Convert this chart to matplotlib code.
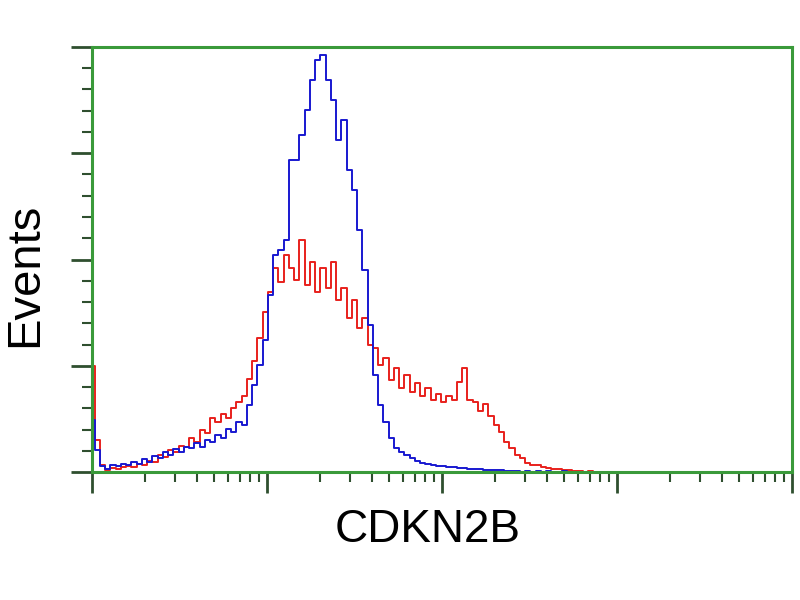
import numpy as np
import matplotlib.pyplot as plt
from matplotlib.ticker import MultipleLocator, LogLocator, NullFormatter

plt.rcParams['font.family'] = ['Liberation Sans', 'DejaVu Sans']

# Canal de fluorescencia en décadas (0.03 década por canal leído)
log_fl = np.linspace(0, 3.0, 101)

# Eventos - control (azul)
blue_counts = [49, 21, 6, 3, 7, 6, 8, 7, 10, 8,
               12, 10, 15, 13, 19, 16, 22, 19, 24, 23,
               27, 24, 30, 28, 35, 32, 41, 38, 47, 44,
               63, 82, 101, 124, 167, 204, 209, 218, 294, 294,
               317, 341, 369, 388, 392, 369, 350, 312, 331, 284,
               265, 228, 190, 138, 91, 63, 47, 32, 23, 19,
               16, 13, 11, 9, 8, 7, 6, 6, 5, 5,
               4, 4, 3, 3, 3, 2, 2, 2, 2, 1,
               1, 1, 0, 1, 0, 1, 0, 1, 0, 0,
               1, 0, 0, 0, 0, 0, 0, 0, 0, 0, 0]

# Eventos - CDKN2B (rojo)
red_counts = [100, 30, 7, 2, 4, 3, 5, 6, 5, 8,
              7, 11, 10, 16, 14, 21, 19, 25, 24, 32,
              28, 40, 37, 51, 47, 55, 51, 60, 66, 72,
              88, 105, 126, 151, 169, 192, 179, 204, 192, 181,
              218, 176, 198, 169, 192, 173, 198, 162, 173, 145,
              162, 136, 145, 120, 117, 101, 107, 87, 98, 79,
              91, 75, 84, 72, 79, 68, 74, 66, 72, 68,
              85, 98, 68, 66, 58, 64, 53, 44, 38, 28,
              23, 16, 13, 9, 7, 7, 5, 4, 3, 3,
              2, 2, 1, 1, 0, 1, 0, 0, 0, 0, 0]

x = 10 ** log_fl

fig = plt.figure(figsize=(8, 6), dpi=100)
ax = fig.add_axes([0.115, 0.213, 0.875, 0.709])

ax.step(x, red_counts, where='mid', color='#e8201c', linewidth=1.4)
ax.step(x, blue_counts, where='mid', color='#1818d0', linewidth=1.4)

ax.set_xscale('log')
ax.set_xlim(1, 1e4)
ax.set_ylim(0, 400)

# Ejes verdes, ticks hacia afuera
for s in ax.spines.values():
    s.set_color('#3a9a3a')
    s.set_linewidth(2.2)

ax.xaxis.set_major_locator(LogLocator(base=10, numticks=10))
ax.xaxis.set_minor_locator(LogLocator(base=10, subs=np.arange(2, 10), numticks=10))
ax.xaxis.set_major_formatter(NullFormatter())
ax.xaxis.set_minor_formatter(NullFormatter())
ax.yaxis.set_major_locator(MultipleLocator(100))
ax.yaxis.set_minor_locator(MultipleLocator(20))
ax.yaxis.set_major_formatter(NullFormatter())

ax.tick_params(which='major', direction='out', length=15, width=2, color='#2f4f2f')
ax.tick_params(which='minor', direction='out', length=7, width=1.5, color='#2f4f2f')

fig.text(0.031, 0.542, 'Events', rotation=90, fontsize=34, ha='center', va='center')
fig.text(0.535, 0.117, 'CDKN2B', fontsize=33, ha='center', va='center')

fig.savefig('out.png', dpi=100)
